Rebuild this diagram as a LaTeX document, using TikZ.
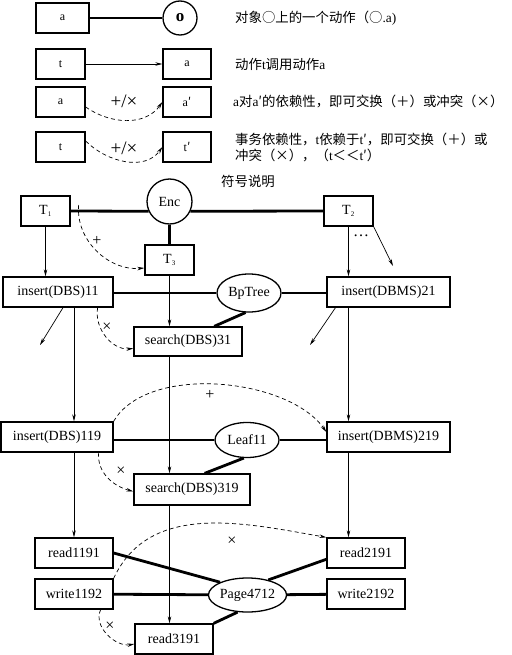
\documentclass[tikz,border=0pt]{standalone}
\usepackage{fontspec}
\setmainfont{Liberation Serif}
\newfontfamily\cjk{Noto Sans CJK SC}
\usetikzlibrary{arrows.meta,shapes.geometric}

\begin{document}
\begin{tikzpicture}[x=1pt,y=1pt,
    box/.style={draw, line width=1.3pt, minimum height=30pt, inner sep=0pt, font=\fontsize{14}{16}\selectfont},
    obj/.style={draw, line width=1.3pt, ellipse, inner sep=0pt, font=\fontsize{14}{16}\selectfont},
    objc/.style={draw, line width=1.3pt, circle, inner sep=0pt, font=\fontsize{14}{16}\selectfont},
    link/.style={line width=2.8pt},
    call/.style={line width=0.7pt, -{Stealth[length=7pt,width=3.5pt]}},
    dep/.style={line width=0.7pt, dash pattern=on 4pt off 3pt, -{Stealth[length=7pt,width=3.5pt]}},
    legtext/.style={anchor=west, inner sep=0pt, font=\fontsize{13.4}{16}\selectfont},
    sym/.style={inner sep=0pt, font=\fontsize{16}{16}\selectfont}]
\path[use as bounding box, fill=white] (0,0) rectangle (511,-655);

% legend
\node[box, minimum width=53pt, font=\fontsize{12}{14}\selectfont] (oa) at (62.5,-18) {a};
\node[objc, minimum size=34pt] (oo) at (180,-18) {\bfseries\fontsize{17}{17}\selectfont o};
\draw[line width=1.6pt] (oa) -- (oo);
\node[legtext] (txa) at (235,-18) {{\cjk 对象○上的一个动作（○}.a)};

\node[box, minimum width=49pt, font=\fontsize{12}{14}\selectfont] (ct) at (60.5,-64) {t};
\node[box, minimum width=48pt, font=\fontsize{12}{14}\selectfont] (ca) at (187,-64) {a};
\draw[call] (ct) -- (ca);
\node[legtext] (txb) at (235,-64) {{\cjk 动作}t{\cjk 调用动作}a};

\node[box, minimum width=49pt, font=\fontsize{12}{14}\selectfont] (da) at (60.5,-102) {a};
\node[box, minimum width=48pt, font=\fontsize{12}{14}\selectfont] (dap) at (187,-102) {a{\cjk ′}};
\draw[dep] ([yshift=-5pt]da.east) to[out=-35,in=-125] (dap.west);
\node[sym, font=\fontsize{19}{19}\selectfont] at (124,-101) {+/×};
\node[legtext] (txc) at (233,-101) {a{\cjk 对}a{\cjk ′的依赖性，即可交换（＋）或冲突（×）}};

\node[box, minimum width=49pt, font=\fontsize{12}{14}\selectfont] (tt) at (60.5,-147) {t};
\node[box, minimum width=48pt, font=\fontsize{12}{14}\selectfont] (ttp) at (187,-147) {t{\cjk ′}};
\draw[dep] ([yshift=6pt]tt.east) to[out=-45,in=-125] (ttp.west);
\node[sym, font=\fontsize{19}{19}\selectfont] at (124,-148) {+/×};
\node[legtext, align=left] (txd) at (235,-147) {{\cjk 事务依赖性，}t{\cjk 依赖于}t{\cjk ′，即可交换（＋）或}\\{\cjk 冲突（×），（}t{\cjk ＜＜}t{\cjk ′）}};

\node[legtext, anchor=center] (title) at (248,-181) {{\cjk 符号说明}};

% transactions and actions
\node[box, minimum width=49pt] (t1) at (45.5,-211) {T\textsubscript{\fontsize{7}{7}\selectfont 1}};
\node[objc, minimum size=45pt] (enc) at (169.5,-201.5) {Enc};
\node[box, minimum width=49pt] (t2) at (348.5,-211) {T\textsubscript{\fontsize{7}{7}\selectfont 2}};
\node[box, minimum width=49pt] (t3) at (169.5,-260) {T\textsubscript{\fontsize{7}{7}\selectfont 3}};

\node[box, minimum width=110pt] (ins11) at (58,-292) {insert(DBS)11};
\node[obj, minimum width=64pt, minimum height=38pt] (bp) at (249,-293) {BpTree};
\node[box, minimum width=123pt] (ins21) at (388.5,-292) {insert(DBMS)21};
\node[box, minimum width=108pt, minimum height=29pt] (s31) at (188,-341.5) {search(DBS)31};

\node[box, minimum width=112pt] (ins119) at (57,-437) {insert(DBS)119};
\node[obj, minimum width=64pt, minimum height=35pt] (leaf) at (247,-440) {Leaf11};
\node[box, minimum width=123pt] (ins219) at (388.5,-437) {insert(DBMS)219};
\node[box, minimum width=116pt, minimum height=31pt] (s319) at (192,-489.5) {search(DBS)319};

\node[box, minimum width=78pt] (r1191) at (74,-553) {read1191};
\node[box, minimum width=78pt] (r2191) at (366,-553) {read2191};
\node[box, minimum width=78pt] (w1192) at (74,-594) {write1192};
\node[box, minimum width=78pt] (w2192) at (366,-594) {write2192};
\node[obj, minimum width=69pt, minimum height=34pt] (pg) at (247.5,-595) {Page4712};
\node[box, minimum width=78pt] (r3191) at (174,-639) {read3191};

% objects
\draw[link] (t1.east) -- (enc.205);
\draw[link] (enc.335) -- (t2.west);
\draw[link] (enc) -- (t3);
\draw[link] (ins11.east |- bp) -- (bp) -- (ins21.west |- bp);
\draw[link] (bp.260) -- (s31.30);
\draw[link] (ins119.east |- leaf) -- (leaf) -- (ins219.west |- leaf);
\draw[link] (leaf.260) -- (s319.52);
\draw[link] (r1191.east) -- (pg.155);
\draw[link] (r2191.189) -- (pg.36);
\draw[link] (w1192) -- (pg) -- (w2192);
\draw[link] (pg.240) -- (r3191.north east);

% calls
\coordinate (t2x) at (393,-266);
\coordinate (ins11x) at (40,-345);
\coordinate (ins21x) at (310,-345);
\draw[call] (t1) -- (t1 |- ins11.north);
\draw[call] (t2) -- (t2 |- ins21.north);
\draw[call] (t2.south east) -- (t2x);
\node[sym] (more) at (361,-236) {…};
\draw[call] (t3) -- (t3 |- s31.north);
\draw[call] (ins11.south -| r1191) -- (ins119.north -| r1191);
\draw[call] ([xshift=5pt]ins11.south) -- (ins11x);
\draw[call] (ins21.south -| t2) -- (ins219.north -| t2);
\draw[call] ([xshift=-53pt]ins21.south) -- (ins21x);
\draw[call] (s31.south -| t3) -- (s319.north -| t3);
\draw[call] (ins119.south -| r1191) -- (r1191);
\draw[call] (ins219.south -| t2) -- (r2191.north -| t2);
\draw[call] (s319.south -| t3) -- (r3191.north -| t3);

% dependencies
\draw[dep] ([xshift=8pt,yshift=6pt]t1.east) to[out=-95,in=185] ([yshift=-8pt]t3.west);
\node[sym] at (97,-241) {+};
\draw[dep] ([xshift=-16pt]ins11.south east) to[out=-100,in=185] ([yshift=-7pt]s31.west);
\node[sym] at (107,-327) {×};
\draw[dep] (ins119.north east) to[out=60,in=125,looseness=0.8] ([yshift=5pt]ins219.west);
\node[sym] at (210,-395) {+};
\draw[dep] ([xshift=-15pt]ins119.south east) to[out=-95,in=165] ([yshift=-2pt]s319.west);
\node[sym] at (121,-471) {×};
\draw[dep] (w1192.north east) to[out=65,in=170] (r2191.north west);
\node[sym] at (232,-541) {×};
\draw[dep] ([xshift=-13pt]w1192.south east) to[out=-115,in=190] ([yshift=-5pt]r3191.west);
\node[sym] at (110,-626) {×};
\end{tikzpicture}
\end{document}
